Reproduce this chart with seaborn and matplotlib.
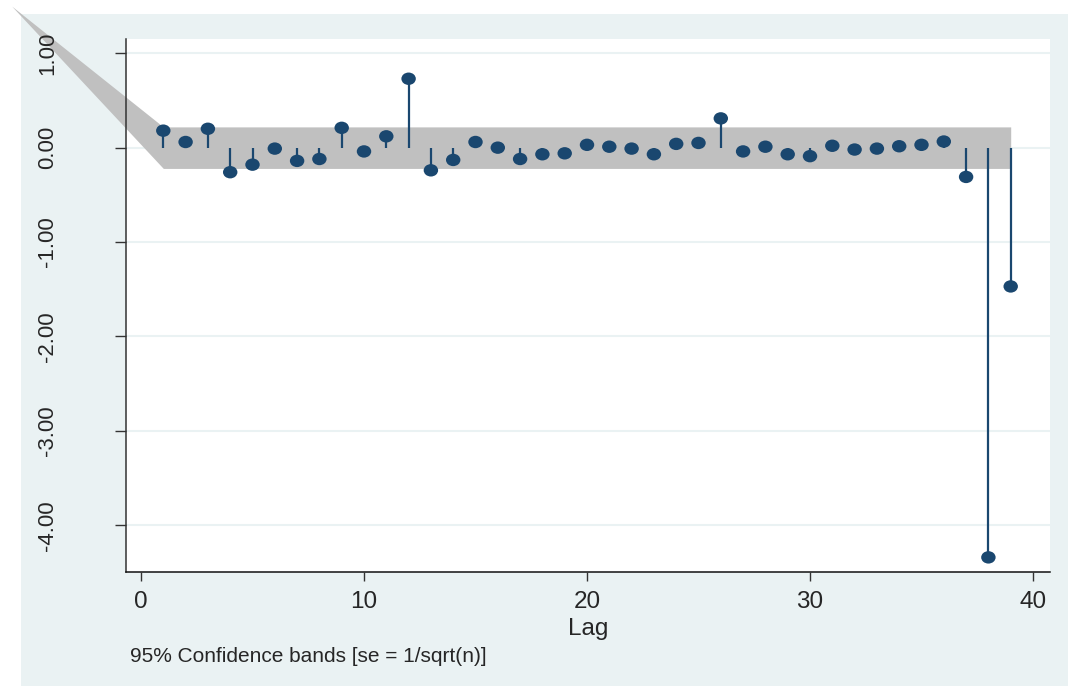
import numpy as np
import pandas as pd
import matplotlib
matplotlib.use("Agg")
import matplotlib.pyplot as plt
from matplotlib.path import Path
from matplotlib.patches import Rectangle
import seaborn as sns

# Partial autocorrelations by lag
lags = list(range(1, 40))
pac = [0.18, 0.06, 0.20, -0.26, -0.18, -0.01, -0.14, -0.12, 0.21, -0.04,
       0.12, 0.73, -0.24, -0.13, 0.06, 0.00, -0.12, -0.07, -0.06, 0.03,
       0.01, -0.01, -0.07, 0.04, 0.05, 0.31, -0.04, 0.01, -0.07, -0.09,
       0.02, -0.02, -0.01, 0.015, 0.03, 0.065, -0.31, -4.34, -1.47]

# 95% confidence band outline (lower / upper)
band_lag = [-5.8, 1, 39]
band_lo = [1.50, -0.22, -0.22]
band_hi = [1.50, 0.22, 0.22]

x_ticks = [0, 10, 20, 30, 40]
y_ticks = [1, 0, -1, -2, -3, -4]
y_ticklabels = ["1.00", "0.00", "-1.00", "-2.00", "-3.00", "-4.00"]

df = pd.DataFrame({"Lag": lags, "pac": pac})

navy = "#1A476F"
region = "#EAF2F3"
band_col = "#C0C0C0"

sns.set_style("white")
plt.rcParams["font.family"] = ["Liberation Sans", "DejaVu Sans"]

W, H = 1068, 686
fig = plt.figure(figsize=(W / 100, H / 100), dpi=100, facecolor="white")

# graph region background
fig.patches.append(Rectangle((21 / W, 0), 1 - 21 / W, 1 - 14 / H,
                             transform=fig.transFigure, facecolor=region,
                             edgecolor="none", zorder=-5))

ax = fig.add_axes([126 / W, 1 - 572 / H, (1050 - 126) / W, (572 - 39) / H])
ax.set_facecolor("white")
ax.set_zorder(1)
ax.set_axisbelow(False)

ax.set_xlim(-15 / 22.3, 909 / 22.3)
ax.set_ylim(-4.495, 1.151)

# horizontal grid
for v in y_ticks:
    ax.axhline(v, color=region, lw=1.5, zorder=1)

# confidence band
band = ax.fill_between(band_lag, band_lo, band_hi, color=band_col,
                       linewidth=0, zorder=2)
band.set_clip_on(False)

# spikes and markers
ax.vlines(df["Lag"], 0, df["pac"], color=navy, lw=1.6, zorder=3)
circ = Path.unit_circle()
ellipse = Path(circ.vertices * np.array([1.0, 0.86]), circ.codes)
sns.scatterplot(data=df, x="Lag", y="pac", ax=ax, marker=ellipse, s=108,
                color=navy, edgecolor="none", linewidth=0, zorder=4,
                legend=False)

for side in ["top", "right"]:
    ax.spines[side].set_visible(False)
ax.spines["left"].set_color("#333333")
ax.spines["bottom"].set_color("#111111")
ax.spines["left"].set_linewidth(1.1)
ax.spines["bottom"].set_linewidth(1.1)

ax.set_xticks(x_ticks)
ax.set_xticklabels([str(t) for t in x_ticks], fontsize=17.5)
ax.set_yticks(y_ticks)
ax.set_yticklabels(y_ticklabels, fontsize=16, rotation=90, va="center")
ax.tick_params(axis="y", direction="out", length=8, width=1, color="#333333",
               pad=41, left=True)
ax.tick_params(axis="x", direction="out", length=6.5, width=1, color="#333333",
               pad=7, bottom=True)

ax.set_xlabel("Lag", fontsize=17.5, labelpad=4)
ax.set_ylabel("")

fig.text(130 / W, 1 - 656 / H, "95% Confidence bands [se = 1/sqrt(n)]",
         fontsize=15, va="center", ha="left")

fig.savefig("out.png", dpi=100, facecolor="white")
